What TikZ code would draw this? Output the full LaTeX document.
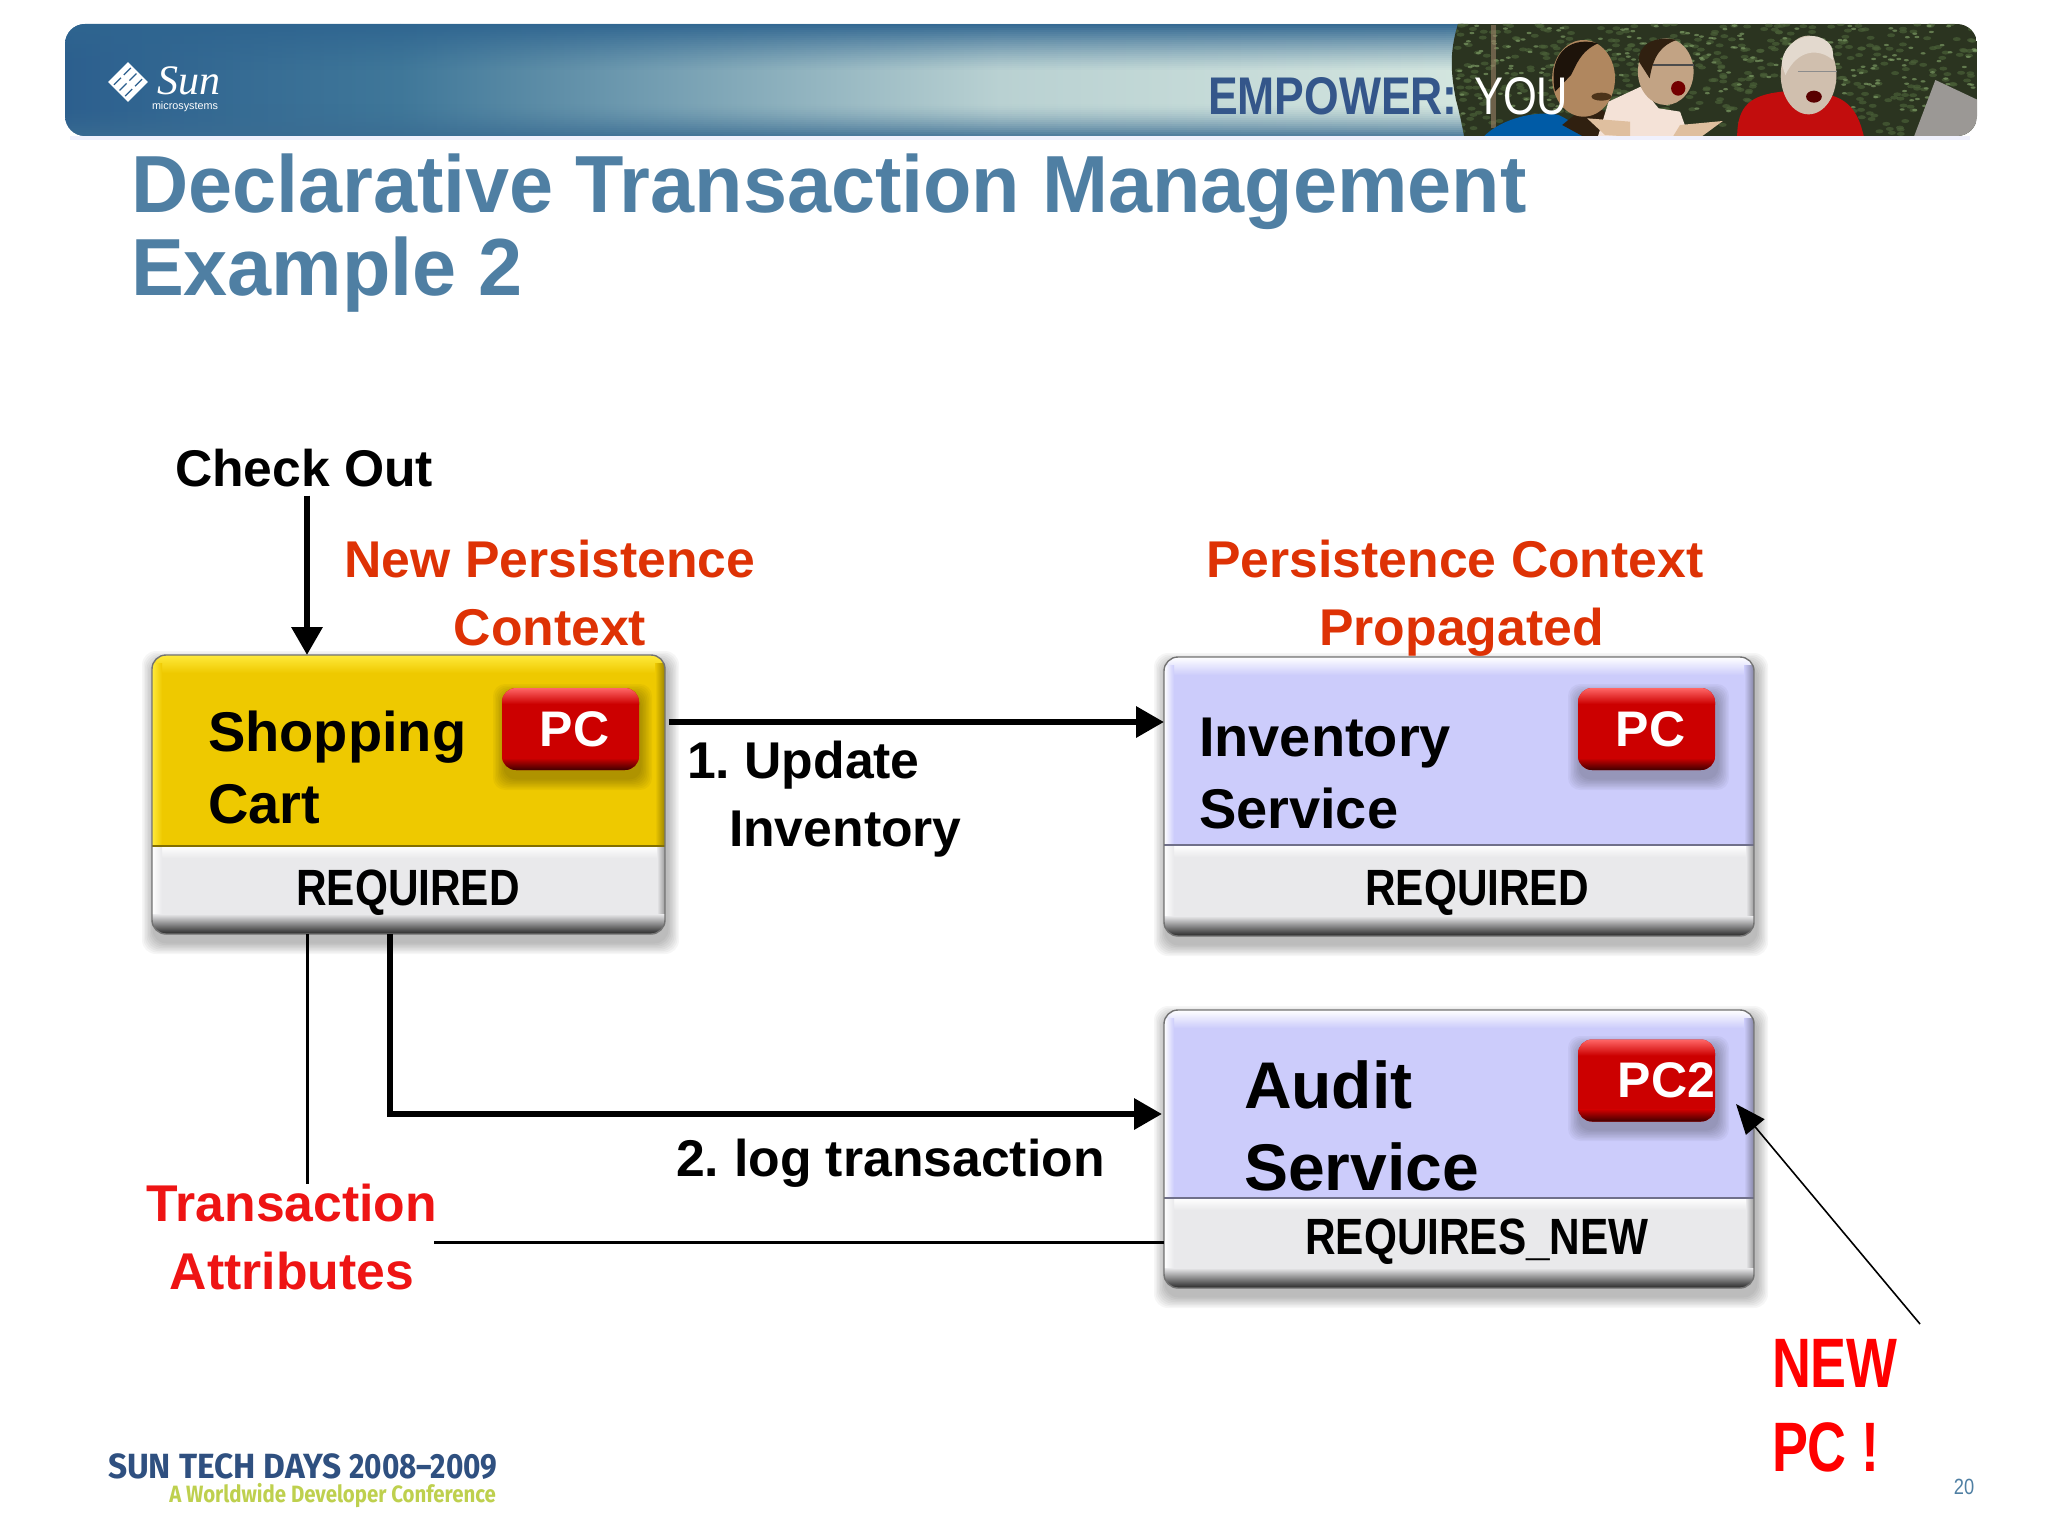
\documentclass[tikz,border=0pt]{standalone}
\usepackage{fontspec}
\setmainfont{Liberation Sans}
\newfontfamily\narT[FakeStretch=.978]{Liberation Sans}
\newfontfamily\narA[FakeStretch=.83]{Liberation Sans}
\newfontfamily\narB[FakeStretch=.77]{Liberation Sans}
\newfontfamily\narC[FakeStretch=.84]{Liberation Sans}
\newfontfamily\narY[FakeStretch=.82]{Liberation Sans}
\newfontfamily\serifi{Liberation Serif}
\newfontfamily\firaA[FakeStretch=.956]{Fira Sans}
\newfontfamily\firaY[FakeStretch=.85]{Fira Sans}
\newfontfamily\firaB[FakeStretch=.865]{Fira Sans}
\usetikzlibrary{arrows.meta,calc}
\definecolor{titleblue}{HTML}{4F7FA3}
\definecolor{orangered}{HTML}{DE3205}
\definecolor{attrred}{HTML}{EE1414}
\definecolor{faceyellow}{HTML}{EEC900}
\definecolor{lightyellow}{HTML}{FFEA3C}
\definecolor{facelav}{HTML}{CCCCFB}
\definecolor{boxgray}{HTML}{E9E9EB}
\definecolor{pcred}{HTML}{CC0000}
\definecolor{banA}{HTML}{2C5F8E}
\definecolor{banB}{HTML}{3F7799}
\definecolor{banC}{HTML}{B9D1D2}
\definecolor{banD}{HTML}{D4E6DF}
\definecolor{banTop}{HTML}{2F6590}
\definecolor{banBot}{HTML}{3A6C92}
\definecolor{empblue}{HTML}{34568A}
\definecolor{footblue}{HTML}{2F5080}
\definecolor{footgreen}{HTML}{BED04E}
\definecolor{hedgeD}{HTML}{2B3420}
\definecolor{hedgeM}{HTML}{4A6038}
\definecolor{hedgeL}{HTML}{80A068}
\newcommand{\fsz}[2]{\fontsize{#1}{#2}\selectfont}
\newcommand{\softshadow}[5]{%
  \foreach \i in {1,...,8}{
    \fill[black,opacity=.035,rounded corners=#5]
      ({#1+2-\i*1.5},{#2+8-\i*1.5}) rectangle ({#3+2+\i*1.5},{#4+8+\i*1.5});
  }}
\tikzset{
  every node/.style={inner sep=0pt,outer sep=0pt},
  bevelbox/.style n args={3}{rectangle,rounded corners=7pt,fill=boxgray,draw=black!55,line width=.7pt,
    path picture={
      \begin{scope}[sharp corners]
      \coordinate (NW) at (path picture bounding box.north west);
      \coordinate (NE) at (path picture bounding box.north east);
      \coordinate (SW) at (path picture bounding box.south west);
      \coordinate (SE) at (path picture bounding box.south east);
      \fill[#2] (NW) rectangle ([yshift=-#1]NE);
      \shade[top color=#3,bottom color=#2] (NW) rectangle ([yshift=-9pt]NE);
      \shade[left color=#3,right color=#2] ([yshift=-4pt]NW) rectangle ([xshift=5pt,yshift=-#1]NW);
      \shade[left color=#2,right color=#2!65!black] ([xshift=-5pt,yshift=-4pt]NE) rectangle ([yshift=-#1]NE);
      \shade[top color=white,bottom color=boxgray] ([yshift=-#1]NW) rectangle ([yshift=-#1-6pt]NE);
      \shade[left color=white,right color=boxgray] ([yshift=-#1]NW) rectangle ([xshift=5pt,yshift=5pt]SW);
      \shade[left color=boxgray,right color=black!40] ([xshift=-4pt,yshift=-#1]NE) rectangle ([yshift=5pt]SE);
      \shade[top color=boxgray,bottom color=black!85] ([yshift=10pt]SW) rectangle (SE);
      \draw[#2!55!black,line width=.8pt] ([yshift=-#1]NW) -- ([yshift=-#1]NE);
      \end{scope}
    }},
  pcbtn/.style={rectangle,rounded corners=7pt,fill=pcred,minimum width=68.5pt,minimum height=41pt,text=white,
    font=\fsz{25}{25}\bfseries,
    path picture={
      \begin{scope}[sharp corners]
      \shade[top color=red!60!white,bottom color=pcred] (path picture bounding box.north west) rectangle ([yshift=-8pt]path picture bounding box.north east);
      \shade[top color=pcred,bottom color=black!75!red] ([yshift=6pt]path picture bounding box.south west) rectangle (path picture bounding box.south east);
      \end{scope}
    }},
  boxlabel/.style={anchor=base west,align=left,font=\fsz{28}{36}\bfseries},
  arrowlabel/.style={anchor=base west,align=left,font=\fsz{25.85}{33.8}\bfseries},
  attr/.style={anchor=base,font=\narA\fsz{25.5}{25.5}\bfseries},
  redlabel/.style={anchor=base,align=center,font=\fsz{25.85}{33.8}\bfseries},
  thickarrow/.style={line width=3.2pt,-{Triangle[length=14pt,width=15pt]}},
  thinline/.style={line width=1.5pt},
}
\begin{document}
\begin{tikzpicture}[x=0.5pt,y=-0.5pt]
\useasboundingbox (0,0) rectangle (2048,1535);
\fill[white] (0,0) rectangle (2048,1535);

% ---- banner
\fill[banD!60!blue!12!white] (70,136) rectangle (1970,140);
\begin{scope}
  \clip[rounded corners=10pt] (65,24) rectangle (1977,136);
  \shade[left color=banA,right color=banB] (65,24) rectangle (400,136);
  \shade[left color=banB,right color=banC] (400,24) rectangle (1000,136);
  \shade[left color=banC,right color=banD] (1000,24) rectangle (1480,136);
  \foreach \yy in {0,2,...,46}{
    \pgfmathsetmacro{\op}{0.95*(1-\yy/46)^1.2}
    \fill[banTop,opacity=\op] (65,24+\yy) rectangle (1480,26+\yy);
  }
  \foreach \yy in {0,2,...,34}{
    \pgfmathsetmacro{\op}{0.9*(\yy/34)^1.6}
    \fill[banBot,opacity=\op] (65,102+\yy) rectangle (1480,104+\yy);
  }
  % photo
  \begin{scope}
    \clip (1458,24) .. controls (1450,50) and (1450,70) .. (1456,100) .. controls (1460,115) and (1462,125) .. (1464,136) -- (1977,136) -- (1977,24) -- cycle;
    \fill[hedgeD] (1450,24) rectangle (1977,136);
    \pgfmathsetseed{11}
    \foreach \n in {1,...,500}{
      \pgfmathsetmacro{\rx}{1455+rnd*522}
      \pgfmathsetmacro{\ry}{24+rnd*110}
      \fill[hedgeM,opacity=.7] (\rx,\ry) ellipse (4 and 2);
    }
    \foreach \n in {1,...,260}{
      \pgfmathsetmacro{\rx}{1455+rnd*522}
      \pgfmathsetmacro{\ry}{24+rnd*90}
      \fill[hedgeL,opacity=.65] (\rx,\ry) ellipse (2.5 and 1.2);
    }
    \begin{scope}[shift={(1430,15)},x=0.17857pt,y=-0.16667pt]
      % pole
      \fill[gray!60!brown,opacity=.6] (172,30) rectangle (186,340);
      % laptop
      \fill[black!40!white!95!brown] (1415,195) -- (1540,258) -- (1540,365) -- (1355,365) -- cycle;
      % person 1
      \fill[blue!45!cyan!65!black] (150,365) .. controls (200,310) and (300,285) .. (360,300) .. controls (400,320) and (420,340) .. (430,365) -- cycle;
      \fill[black!75!brown] (370,330) -- (450,260) -- (500,300) -- (500,365) -- (430,365) -- cycle;
      \fill[brown!75!white!85!black] (430,190) ellipse (88 and 115);
      \fill[black!85!brown] (350,230) .. controls (330,130) and (380,60) .. (470,85) .. controls (420,110) and (410,150) .. (395,180) -- cycle;
      \fill[black!60!brown] (480,245) ellipse (28 and 12);
      % person 2
      \fill[red!15!brown!20!white] (470,365) -- (500,260) -- (590,215) -- (640,280) -- (700,290) -- (725,365) -- cycle;
      \fill[brown!55!white!88!black] (660,170) ellipse (78 and 100);
      \fill[black!75!brown] (585,140) .. controls (580,90) and (630,60) .. (690,75) .. controls (650,90) and (625,120) .. (615,190) -- cycle;
      \draw[black!70,line width=.8pt] (625,150) -- (740,150);
      \fill[black!55!red] (695,220) ellipse (20 and 22);
      \fill[brown!50!white] (440,310) -- (560,320) -- (560,365) -- (490,360) -- cycle;
      \fill[brown!50!white] (680,365) -- (700,330) -- (820,318) -- (760,365) -- cycle;
      % person 3
      \fill[red!75!black!95!white] (860,365) .. controls (860,270) and (900,240) .. (985,230) -- (1100,235) .. controls (1180,250) and (1200,300) .. (1215,365) -- cycle;
      \fill[brown!30!white!88!black] (1060,180) ellipse (78 and 118);
      \fill[gray!45!brown!30!white] (985,150) .. controls (985,90) and (1040,55) .. (1085,65) .. controls (1130,80) and (1130,110) .. (1128,135) .. controls (1090,100) and (1030,100) .. (995,180) -- cycle;
      \draw[black!45,line width=.5pt] (1030,170) -- (1140,170);
      \fill[black!65!red] (1075,245) ellipse (22 and 18);
    \end{scope}
  \end{scope}
\end{scope}

% Sun logo
\fill[white,rotate around={45:(128,82)}] (114,68) rectangle (142,96);
\begin{scope}[rotate around={45:(128,82)}]
  \foreach \d in {-8,0,8}{
    \draw[banA,line width=.6pt] (116,{82+\d}) -- (126,{82+\d});
    \draw[banA,line width=.6pt] (130,{82+\d}) -- (140,{82+\d});
  }
\end{scope}
\node[anchor=base west,text=white] (sunname) at (157,95) {\serifi\itshape\fsz{21}{21}Sun};
\node[anchor=base west,text=white] (micro) at (152,110) {\fsz{5.4}{6}microsystems};
\node[anchor=base west,text=empblue] (empower) at (1208,115) {\narC\fsz{26.5}{26.5}\bfseries EMPOWER:};
\node[anchor=base west,text=white] (you) at (1474,115) {\narY\fsz{26.5}{26.5}YOU};

% title
\node[anchor=base west,align=left,text=titleblue,font=\narT\fsz{40.5}{41.5}\bfseries] (title) at (131,296) {Declarative Transaction Management\\Example 2};

% shadows
\softshadow{152}{655}{665}{934}{7pt}
\softshadow{1164}{657}{1754}{936}{7pt}
\softshadow{1164}{1010}{1754}{1288}{7pt}

% boxes
\node[bevelbox={95.5pt}{faceyellow}{lightyellow},minimum width=256.5pt,minimum height=139.5pt] (cart) at (408.5,794.5) {};
\node[bevelbox={94pt}{facelav}{white},minimum width=295pt,minimum height=139.5pt] (inv) at (1459,796.5) {};
\node[bevelbox={94pt}{facelav}{white},minimum width=295pt,minimum height=139pt] (audit) at (1459,1149) {};

\softshadow{503}{688}{638}{770}{6pt}
\softshadow{1578}{688}{1715}{770}{6pt}
\softshadow{1578}{1040}{1715}{1121}{6pt}
\node[pcbtn] (pc1) at (570.5,729) {\hspace*{4pt}PC};
\node[pcbtn] (pc2) at (1646.5,729) {\hspace*{4pt}PC};
\node[pcbtn,text width=68.5pt,align=right] (pc3) at (1646.5,1080.5) {PC2};

\node[boxlabel] (cartlabel) at (208,823) {Shopping\\Cart};
\node[boxlabel] (invlabel) at (1199,828) {Inventory\\Service};
\node[boxlabel,font=\fsz{33}{41}\bfseries] (auditlabel) at (1244,1190) {Audit\\Service};
\node[attr] (req1) at (408,905) {REQUIRED};
\node[attr] (req2) at (1477,905) {REQUIRED};
\node[attr] (req3) at (1477,1254) {REQUIRES\_NEW};

% labels
\node[anchor=base west,font=\fsz{25.8}{25.8}\bfseries] (checkout) at (175,486) {Check Out};
\node[redlabel,text=orangered] (newpc) at (550,645) {New Persistence\\Context};
\node[redlabel,text=orangered] (proppc) at (1455,645) {Persistence Context\\\hspace*{6.5pt}Propagated};
\node[arrowlabel] (update) at (687,846) {1.\hspace{7.2pt}Update\\\hspace*{21pt}Inventory};
\node[arrowlabel] (logtx) at (676,1176) {2.\hspace{7.5pt}log transaction};
\node[redlabel,text=attrred] (trans) at (292,1289) {Transaction\\Attributes};
\node[anchor=base west,align=left,text=red,font=\narB\fsz{35}{42}\bfseries] (newlbl) at (1772,1471) {NEW\\PC !};
\node[anchor=base,text=titleblue,font=\narA\fsz{11}{11}] (pagenum) at (1964,1494) {20};

% footer
\node[anchor=base west,text=footblue,font=\fsz{17.5}{18}\bfseries] (sundays) at (108,1478) {\firaA\bfseries SUN TECH DAYS \firaY\bfseries 2008–2009};
\node[anchor=base east,text=footgreen,font=\firaB\fsz{11.8}{12}\bfseries] (conf) at (496,1502) {A Worldwide Developer Conference};

% connectors
\coordinate (cx) at (307,0);
\coordinate (lx) at (390,0);
\coordinate (upy) at (0,722);
\coordinate (logy) at (0,1114);
\coordinate (attry) at (0,1242);
\coordinate (newfree) at (1920,1324);
\coordinate (newtip) at (1736,1104);
\draw[thickarrow] ([yshift=-4.5pt]checkout.south -| cx) -- (cart.north -| cx);
\draw[thickarrow] ([xshift=2pt]cart.east |- upy) -- (inv.west |- upy);
\draw[thickarrow] (cart.south -| lx) -- (lx |- logy) -- ([xshift=-1pt]audit.west |- logy);
\draw[thinline] (cart.south -| cx) -- (trans.north -| cx);
\draw[thinline] ([xshift=-1.5pt]trans.east |- attry) -- (audit.west |- attry);
\draw[line width=.8pt,-{Triangle[length=15pt,width=12pt]}] (newfree) -- (newtip);
\end{tikzpicture}
\end{document}
